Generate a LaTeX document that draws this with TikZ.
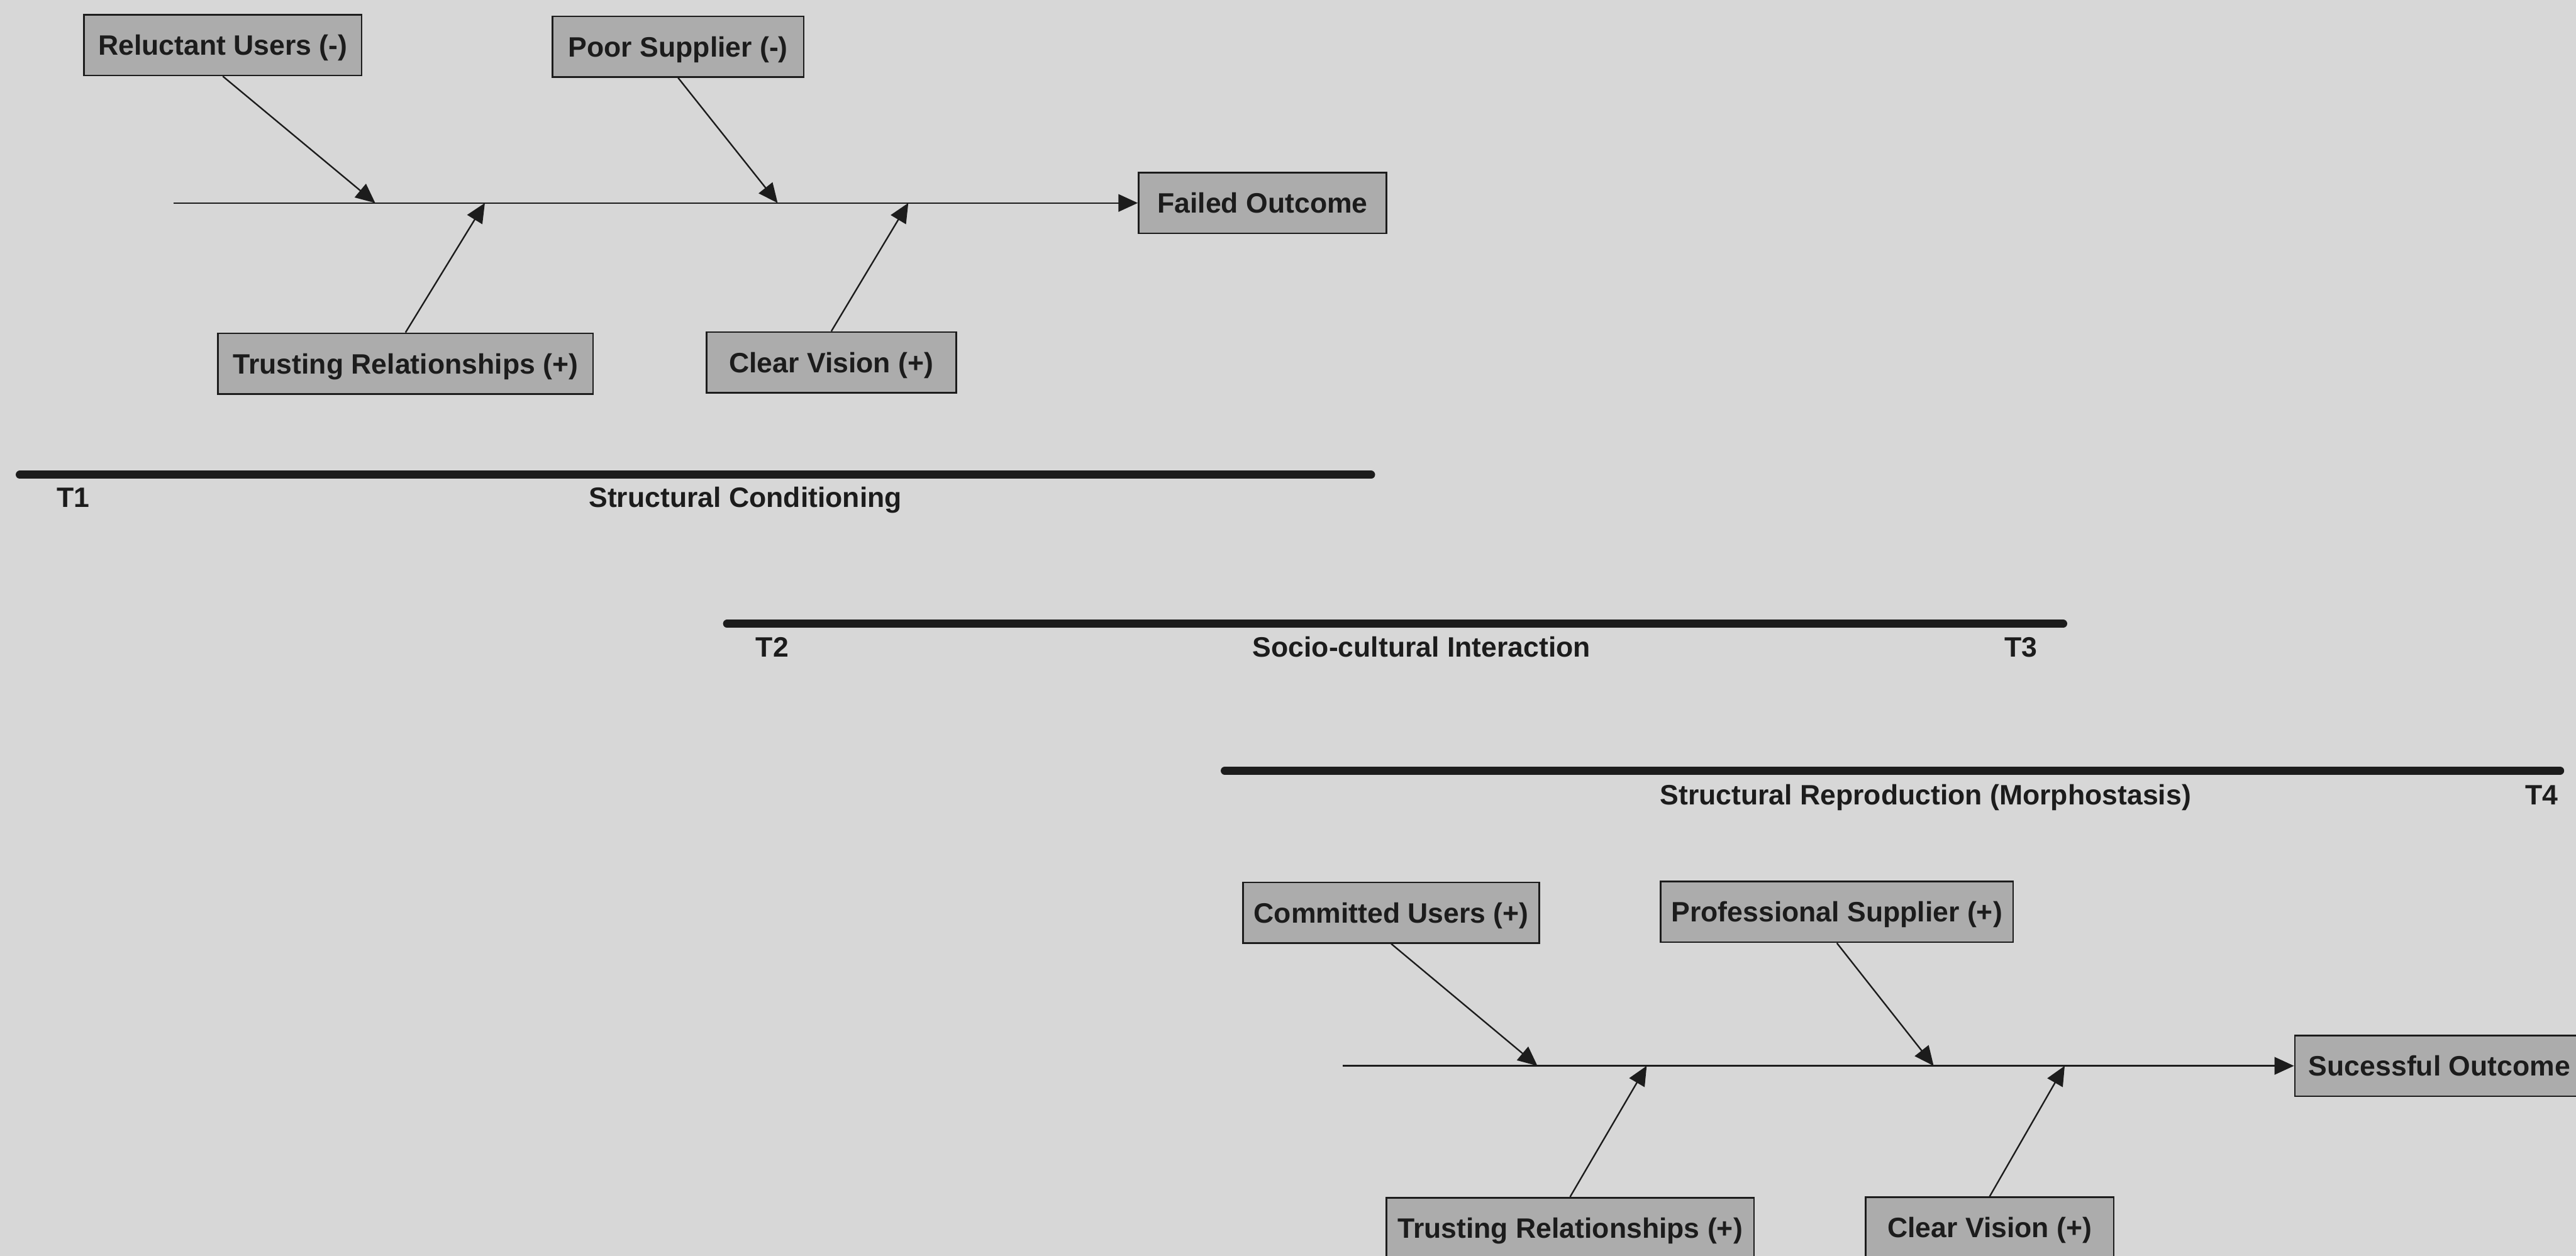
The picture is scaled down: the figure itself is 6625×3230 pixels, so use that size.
\documentclass[tikz,border=0pt]{standalone}
\usepackage{fontspec}
\setmainfont{Liberation Sans}
\usetikzlibrary{arrows.meta}
\definecolor{paper}{RGB}{215,215,215}
\definecolor{boxfill}{RGB}{172,172,172}
\definecolor{ink}{RGB}{28,28,28}
\begin{document}
\begin{tikzpicture}[x=0.01cm,y=-0.01cm,
  factor/.style={draw=ink, line width=1.2pt, fill=boxfill, minimum height=1.56cm,
    inner xsep=0.1cm, text height=0.52cm, text depth=0pt,
    font=\fontsize{20.5}{24}\selectfont\bfseries, text=ink},
  branch/.style={draw=ink, line width=1.1pt, -{Triangle[length=0.5cm,width=0.45cm]}},
  period/.style={draw=ink, line width=0.21cm, line cap=round},
  tlabel/.style={anchor=base, font=\fontsize{20.5}{24}\selectfont\bfseries, text=ink, inner sep=0pt}
]
% page
\clip (0,0) rectangle (6625,3230);
\fill[paper] (0,0) rectangle (6625,3230);

% ---- fishbone: failed outcome ----
\node[factor, minimum width=7.13cm] (ru)  at (573,116)  {Reluctant Users (-)};
\node[factor, minimum width=6.46cm] (ps)  at (1744,120) {Poor Supplier (-)};
\node[factor, minimum width=6.37cm] (fo)  at (3247,522) {Failed Outcome};
\node[factor, minimum width=9.64cm] (tr1) at (1043,935) {Trusting Relationships (+)};
\node[factor, minimum width=6.42cm] (cv1) at (2138,932) {Clear Vision (+)};

\coordinate (s1) at (446,522);
\coordinate (a1) at (965,522);
\coordinate (a2) at (2000,522);
\coordinate (a3) at (1247,522);
\coordinate (a4) at (2336,522);
\draw[branch] (s1) -- (fo.west);
\draw[branch] (ru.south) -- (a1);
\draw[branch] (ps.south) -- (a2);
\draw[branch] (tr1.north) -- (a3);
\draw[branch] (cv1.north) -- (a4);

% ---- time periods ----
\draw[period] (51,1221) -- (3526,1221);
\draw[period] (1870,1604) -- (5306,1604);
\draw[period] (3150,1982) -- (6584,1982);

\node[tlabel] (t1)  at (188,1305)  {T1};
\node[tlabel] (sc)  at (1917,1305) {Structural Conditioning};
\node[tlabel] (t2)  at (1986,1690) {T2};
\node[tlabel] (sci) at (3656,1690) {Socio-cultural Interaction};
\node[tlabel] (t3)  at (5197,1690) {T3};
\node[tlabel] (sr)  at (4952,2069) {Structural Reproduction (Morphostasis)};
\node[tlabel] (t4)  at (6536,2069) {T4};

% ---- fishbone: successful outcome ----
\node[factor, minimum width=7.61cm] (cu)  at (3578,2347) {Committed Users (+)};
\node[factor, minimum width=9.06cm] (psu) at (4724,2345) {Professional Supplier (+)};
\node[factor, minimum width=7.44cm] (so)  at (6274,2741) {Sucessful Outcome};
\node[factor, minimum width=9.45cm] (tr2) at (4038,3158) {Trusting Relationships (+)};
\node[factor, minimum width=6.38cm] (cv2) at (5117,3157) {Clear Vision (+)};

\coordinate (s2) at (3453,2741);
\coordinate (b1) at (3954,2741);
\coordinate (b2) at (4973,2741);
\coordinate (b3) at (4235,2741);
\coordinate (b4) at (5310,2741);
\draw[branch] (s2) -- (so.west);
\draw[branch] (cu.south) -- (b1);
\draw[branch] (psu.south) -- (b2);
\draw[branch] (tr2.north) -- (b3);
\draw[branch] (cv2.north) -- (b4);
\end{tikzpicture}
\end{document}
